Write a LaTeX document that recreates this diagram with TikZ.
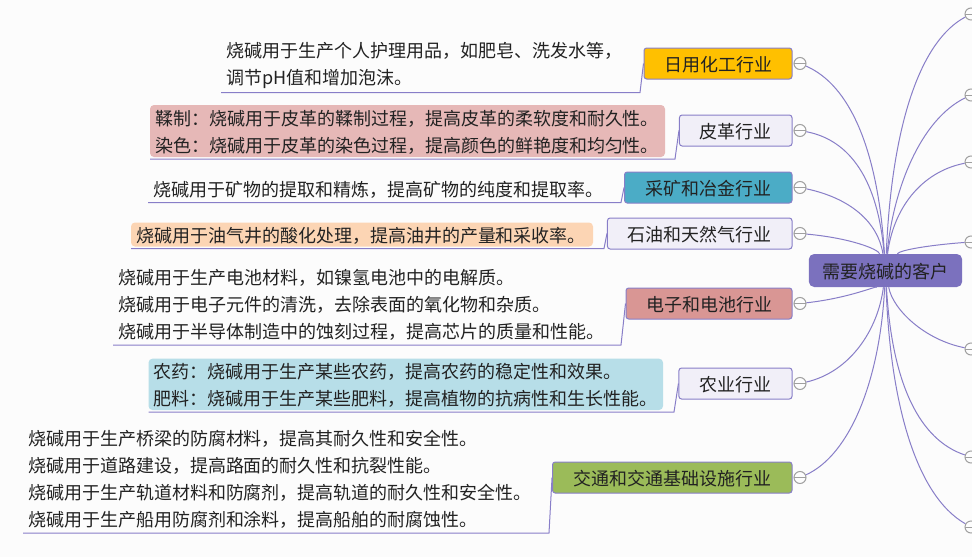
\documentclass[tikz,border=0pt]{standalone}
\usepackage{fontspec}
\setmainfont{Noto Sans CJK SC}
\begin{document}
\begin{tikzpicture}[x=0.75pt,y=0.75pt,yscale=-1,xscale=1,
  font=\fontsize{13.5}{20.25}\selectfont,
  every node/.style={text={rgb, 255:red, 34; green, 34; blue, 34 }},
  dropped/.style={execute at begin node={\rule{0pt}{13.4pt}}},
  link/.style={draw={rgb, 255:red, 136; green, 126; blue, 200 },line width=0.75pt},
  band/.style={dropped,draw={rgb, 255:red, 136; green, 126; blue, 200 },line width=0.75pt,rounded corners=2pt,minimum height=23.25pt,inner sep=0pt,anchor=east},
  pale/.style={band,fill={rgb, 255:red, 241; green, 239; blue, 248 }},
  leaf/.style={dropped,anchor=south west,align=left,inner xsep=3.75pt,inner ysep=0pt,outer xsep=0pt,outer ysep=1.5pt,rounded corners=3pt},
  toggle/.style={circle,draw={rgb, 255:red, 160; green, 160; blue, 160 },fill={rgb, 255:red, 253; green, 253; blue, 253 },line width=0.75pt,minimum size=9pt,inner sep=0pt,
    path picture={\draw [color={rgb, 255:red, 160; green, 160; blue, 160 }] (path picture bounding box.west) -- (path picture bounding box.east);}}
  ]
\useasboundingbox (0,0) rectangle (972,557);
\fill [color={rgb, 255:red, 252; green, 252; blue, 252 }] (0,0) rectangle (972,557);

% Central topic
\node (hub) [dropped,draw=none,fill={rgb, 255:red, 123; green, 113; blue, 190 },rounded corners=4pt,minimum width=115pt,minimum height=24.75pt,inner sep=0pt] at (885.5,270.5) {需要烧碱的客户};

% Left branches
\node (bandA) [band,minimum width=111pt,fill={rgb, 255:red, 255; green, 192; blue, 0 }] at (792.5,63.5) {日用化工行业};
\node (bandB) [pale,minimum width=84.4pt] at (792.5,130.5) {皮革行业};
\node (bandC) [band,minimum width=125.6pt,fill={rgb, 255:red, 75; green, 172; blue, 198 }] at (792.5,187.5) {采矿和冶金行业};
\node (bandD) [pale,minimum width=138.4pt] at (792.5,233.5) {石油和天然气行业};
\node (bandE) [band,minimum width=124.5pt,fill={rgb, 255:red, 217; green, 150; blue, 148 }] at (792.5,303.5) {电子和电池行业};
\node (bandF) [pale,minimum width=84.8pt] at (792.5,383.5) {农业行业};
\node (bandG) [band,minimum width=179.6pt,fill={rgb, 255:red, 155; green, 187; blue, 89 }] at (792.5,477.5) {交通和交通基础设施行业};

% Notes
\node (leafA) [leaf,text width=330pt,minimum height=39pt] at (221,92.5) {烧碱用于生产个人护理用品，如肥皂、洗发水等，\\调节pH值和增加泡沫。};
\node (leafB) [leaf,text width=378.75pt,minimum height=39pt,fill={rgb, 255:red, 230; green, 184; blue, 183 }] at (150,159) {鞣制：烧碱用于皮革的鞣制过程，提高皮革的柔软度和耐久性。\\染色：烧碱用于皮革的染色过程，提高颜色的鲜艳度和均匀性。};
\node (leafC) [leaf,text width=350pt,minimum height=18pt] at (148,202.5) {烧碱用于矿物的提取和精炼，提高矿物的纯度和提取率。};
\node (leafD) [leaf,text width=339pt,minimum height=18pt,fill={rgb, 255:red, 252; green, 213; blue, 180 }] at (131,248.5) {烧碱用于油气井的酸化处理，提高油井的产量和采收率。};
\node (leafE) [leaf,text width=370pt,minimum height=59pt] at (113,345) {烧碱用于生产电池材料，如镍氢电池中的电解质。\\烧碱用于电子元件的清洗，去除表面的氧化物和杂质。\\烧碱用于半导体制造中的蚀刻过程，提高芯片的质量和性能。};
\node (leafF) [leaf,text width=378.4pt,minimum height=38.5pt,fill={rgb, 255:red, 183; green, 222; blue, 232 }] at (148.5,412) {农药：烧碱用于生产某些农药，提高农药的稳定性和效果。\\肥料：烧碱用于生产某些肥料，提高植物的抗病性和生长性能。};
\node (leafG) [leaf,text width=380pt,minimum height=79.5pt] at (23,533) {烧碱用于生产桥梁的防腐材料，提高其耐久性和安全性。\\烧碱用于道路建设，提高路面的耐久性和抗裂性能。\\烧碱用于生产轨道材料和防腐剂，提高轨道的耐久性和安全性。\\烧碱用于生产船用防腐剂和涂料，提高船舶的耐腐蚀性。};

% Toggles
\foreach \name/\yy in {togA/63.5,togB/130.5,togC/187.5,togD/233.5,togE/303.5,togF/383.5,togG/477.5}
  \node (\name) [toggle] at (800,\yy) {};
\foreach \name/\yy in {togH/14,togI/95,togJ/162,togK/242,togL/349,togM/457,togN/527}
  \node (\name) [toggle] at (971,\yy) {};

% Note lines
\coordinate (bendA) at (640,92.5);
\coordinate (bendB) at (675,159);
\coordinate (bendC) at (621,202.5);
\coordinate (bendD) at (604,248.5);
\coordinate (bendE) at (621,345);
\coordinate (bendF) at (674,412);
\coordinate (bendG) at (549,533);
\foreach \tag in {A,B,C,D,E,F,G}
  \draw [link] (band\tag.west) -- (bend\tag) -- (leaf\tag.south west);

% Curves, left side
\draw [link] (hub) .. controls (878,150) and (850,85) .. (togA);
\draw [link] (hub) .. controls (878,180) and (850,140) .. (togB);
\draw [link] (hub) .. controls (878,222) and (850,198) .. (togC);
\draw [link] (hub) .. controls (878,249) and (850,238) .. (togD);
\draw [link] (hub) .. controls (878,285) and (850,298) .. (togE);
\draw [link] (hub) .. controls (878,330) and (850,372) .. (togF);
\draw [link] (hub) .. controls (880,380) and (850,455) .. (togG);
% Curves, right side
\draw [link] (hub) .. controls (892,120) and (922,40) .. (togH);
\draw [link] (hub) .. controls (893,190) and (920,120) .. (togI);
\draw [link] (hub) .. controls (893,210) and (920,172) .. (togJ);
\draw [link] (hub) .. controls (900,250) and (930,245) .. (togK);
\draw [link] (hub) .. controls (893,310) and (925,340) .. (togL);
\draw [link] (hub) .. controls (892,385) and (920,440) .. (togM);
\draw [link] (hub) .. controls (890,400) and (915,495) .. (togN);

\end{tikzpicture}
\end{document}
